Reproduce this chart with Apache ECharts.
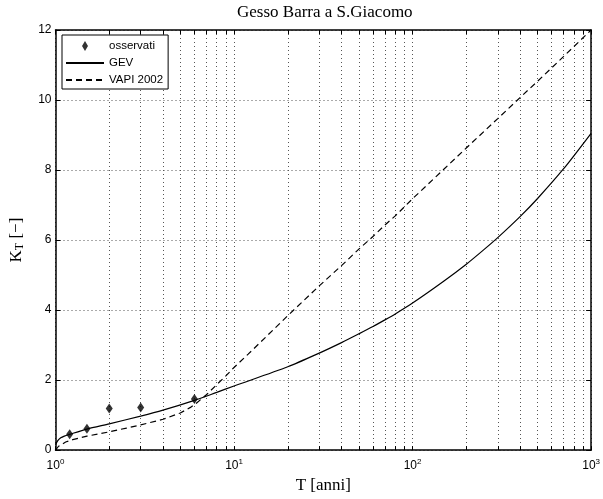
<!DOCTYPE html>
<html>
<head>
<meta charset="utf-8">
<script src="https://cdn.jsdelivr.net/npm/echarts@6/dist/echarts.min.js"></script>
<style>
  html, body { margin: 0; padding: 0; background: #fff; }
  #chart { width: 603px; height: 499px; }
</style>
</head>
<body>
<div id="chart"></div>
<script>
// osservati (plotting positions)
const obsT = [1.2, 1.5, 2, 3, 6]
const obsK = [0.45, 0.61, 1.19, 1.22, 1.46]

// GEV growth curve
const gevT = [1, 1.03, 1.07, 1.12, 1.2, 1.5, 2, 3, 4, 6, 8, 10, 20, 30, 40, 50, 60, 70, 80, 100, 150, 200, 250, 300, 400, 500, 700, 1000]
const gevK = [0.15, 0.27, 0.35, 0.40, 0.45, 0.60, 0.75, 0.97, 1.14, 1.42, 1.65, 1.83, 2.38, 2.77, 3.07, 3.32, 3.53, 3.72, 3.89, 4.2, 4.83, 5.31, 5.72, 6.07, 6.67, 7.18, 8.03, 9.05]

// VAPI 2002 growth curve
const vapiT = [1, 1.04, 1.14, 1.25, 1.5, 2, 2.5, 3, 4, 5, 5.7, 6.15, 7, 8, 9, 10, 12, 20, 30, 40, 50, 60, 70, 80, 100, 200, 300, 400, 500, 700, 1000]
const vapiK = [0.0, 0.11, 0.23, 0.30, 0.40, 0.52, 0.63, 0.72, 0.88, 1.06, 1.22, 1.34, 1.58, 1.87, 2.12, 2.36, 2.74, 3.84, 4.69, 5.27, 5.74, 6.1, 6.43, 6.69, 7.18, 8.63, 9.47, 10.07, 10.53, 11.24, 12.0]

// axis ticks
const decadeTicks = [1, 10, 100, 1000]
const logTicks = [1, 2, 3, 4, 5, 6, 7, 8, 9, 10, 20, 30, 40, 50, 60, 70, 80, 90, 100, 200, 300, 400, 500, 600, 700, 800, 900, 1000]

const pairs = (xs, ys) => xs.map((x, i) => [x, ys[i]])

const chart = echarts.init(document.getElementById('chart'))

const frame = { show: true, onZero: false, lineStyle: { color: '#000', width: 1.5 } }
const grid = { show: true, lineStyle: { color: '#555', width: 1, type: [1, 3] } }

const xBase = {
  type: 'log',
  logBase: 10,
  min: 1,
  max: 1000,
  axisLine: frame,
  axisTick: { show: true, inside: true, length: 4, customValues: logTicks, lineStyle: { color: '#000' } }
}

const option = {
  animation: false,
  backgroundColor: '#fff',
  title: {
    text: 'Gesso Barra a S.Giacomo',
    left: 237,
    top: 4,
    padding: 0,
    textStyle: { fontFamily: 'Liberation Serif', fontSize: 17, fontWeight: 'normal', color: '#000' }
  },
  legend: {
    orient: 'vertical',
    left: 62,
    top: 35,
    padding: [5, 5, 3, 3],
    itemWidth: 38,
    itemHeight: 10,
    itemGap: 5,
    symbolKeepAspect: true,
    backgroundColor: '#fff',
    borderColor: '#000',
    borderWidth: 1,
    borderRadius: 0,
    textStyle: { fontFamily: 'Liberation Sans', fontSize: 11.5, color: '#000' },
    data: [
      { name: 'osservati', icon: 'path://M3,0L6,5L3,10L0,5Z', itemStyle: { color: '#000' } },
      { name: 'GEV', itemStyle: { opacity: 0 } },
      { name: 'VAPI 2002', itemStyle: { opacity: 0 } }
    ]
  },
  grid: { left: 55, right: 10, top: 30, bottom: 45 },
  xAxis: [
    Object.assign({}, xBase, {
      position: 'bottom',
      name: 'T [anni]',
      nameLocation: 'middle',
      nameGap: 21,
      nameTextStyle: { fontFamily: 'Liberation Serif', fontSize: 17, color: '#000' },
      splitLine: grid,
      axisLabel: {
        customValues: decadeTicks,
        margin: 8,
        formatter: v => '{b|10}{s|' + Math.round(Math.log10(v)) + '}',
        rich: {
          b: { fontFamily: 'Liberation Sans', fontSize: 12, color: '#000' },
          s: { fontFamily: 'Liberation Sans', fontSize: 8, color: '#000', verticalAlign: 'top', padding: [0, 0, 8, 0] }
        }
      }
    }),
    Object.assign({}, xBase, {
      position: 'top',
      splitLine: { show: false },
      axisLabel: { show: false }
    })
  ],
  yAxis: [
    {
      type: 'value',
      min: 0,
      max: 12,
      interval: 2,
      position: 'left',
      axisLine: frame,
      axisTick: { show: true, inside: true, length: 5, lineStyle: { color: '#000' } },
      splitLine: grid,
      axisLabel: { margin: 4, fontFamily: 'Liberation Sans', fontSize: 12, color: '#000' },
      name: '{k|K}{t|T}{k| [−]}',
      nameLocation: 'middle',
      nameGap: 30,
      nameRotate: 90,
      nameTextStyle: {
        rich: {
          k: { fontFamily: 'Liberation Serif', fontSize: 17, color: '#000' },
          t: { fontFamily: 'Liberation Serif', fontSize: 12, color: '#000', verticalAlign: 'bottom', padding: [6, 0, 0, 0] }
        }
      }
    },
    {
      type: 'value',
      min: 0,
      max: 12,
      interval: 2,
      position: 'right',
      axisLine: frame,
      axisTick: { show: true, inside: true, length: 5, lineStyle: { color: '#000' } },
      splitLine: { show: false },
      axisLabel: { show: false }
    }
  ],
  series: [
    {
      name: 'osservati',
      type: 'scatter',
      symbol: 'diamond',
      symbolSize: [7, 10],
      itemStyle: { color: '#000' },
      data: pairs(obsT, obsK),
      z: 5
    },
    {
      name: 'GEV',
      type: 'line',
      symbol: 'none',
      smooth: 0.25,
      itemStyle: { color: '#000' },
      lineStyle: { color: '#000', width: 1.2 },
      data: pairs(gevT, gevK)
    },
    {
      name: 'VAPI 2002',
      type: 'line',
      symbol: 'none',
      itemStyle: { color: '#000' },
      lineStyle: { color: '#000', width: 1.2, type: [6, 4] },
      data: pairs(vapiT, vapiK)
    }
  ]
}

chart.setOption(option)
</script>
</body>
</html>
